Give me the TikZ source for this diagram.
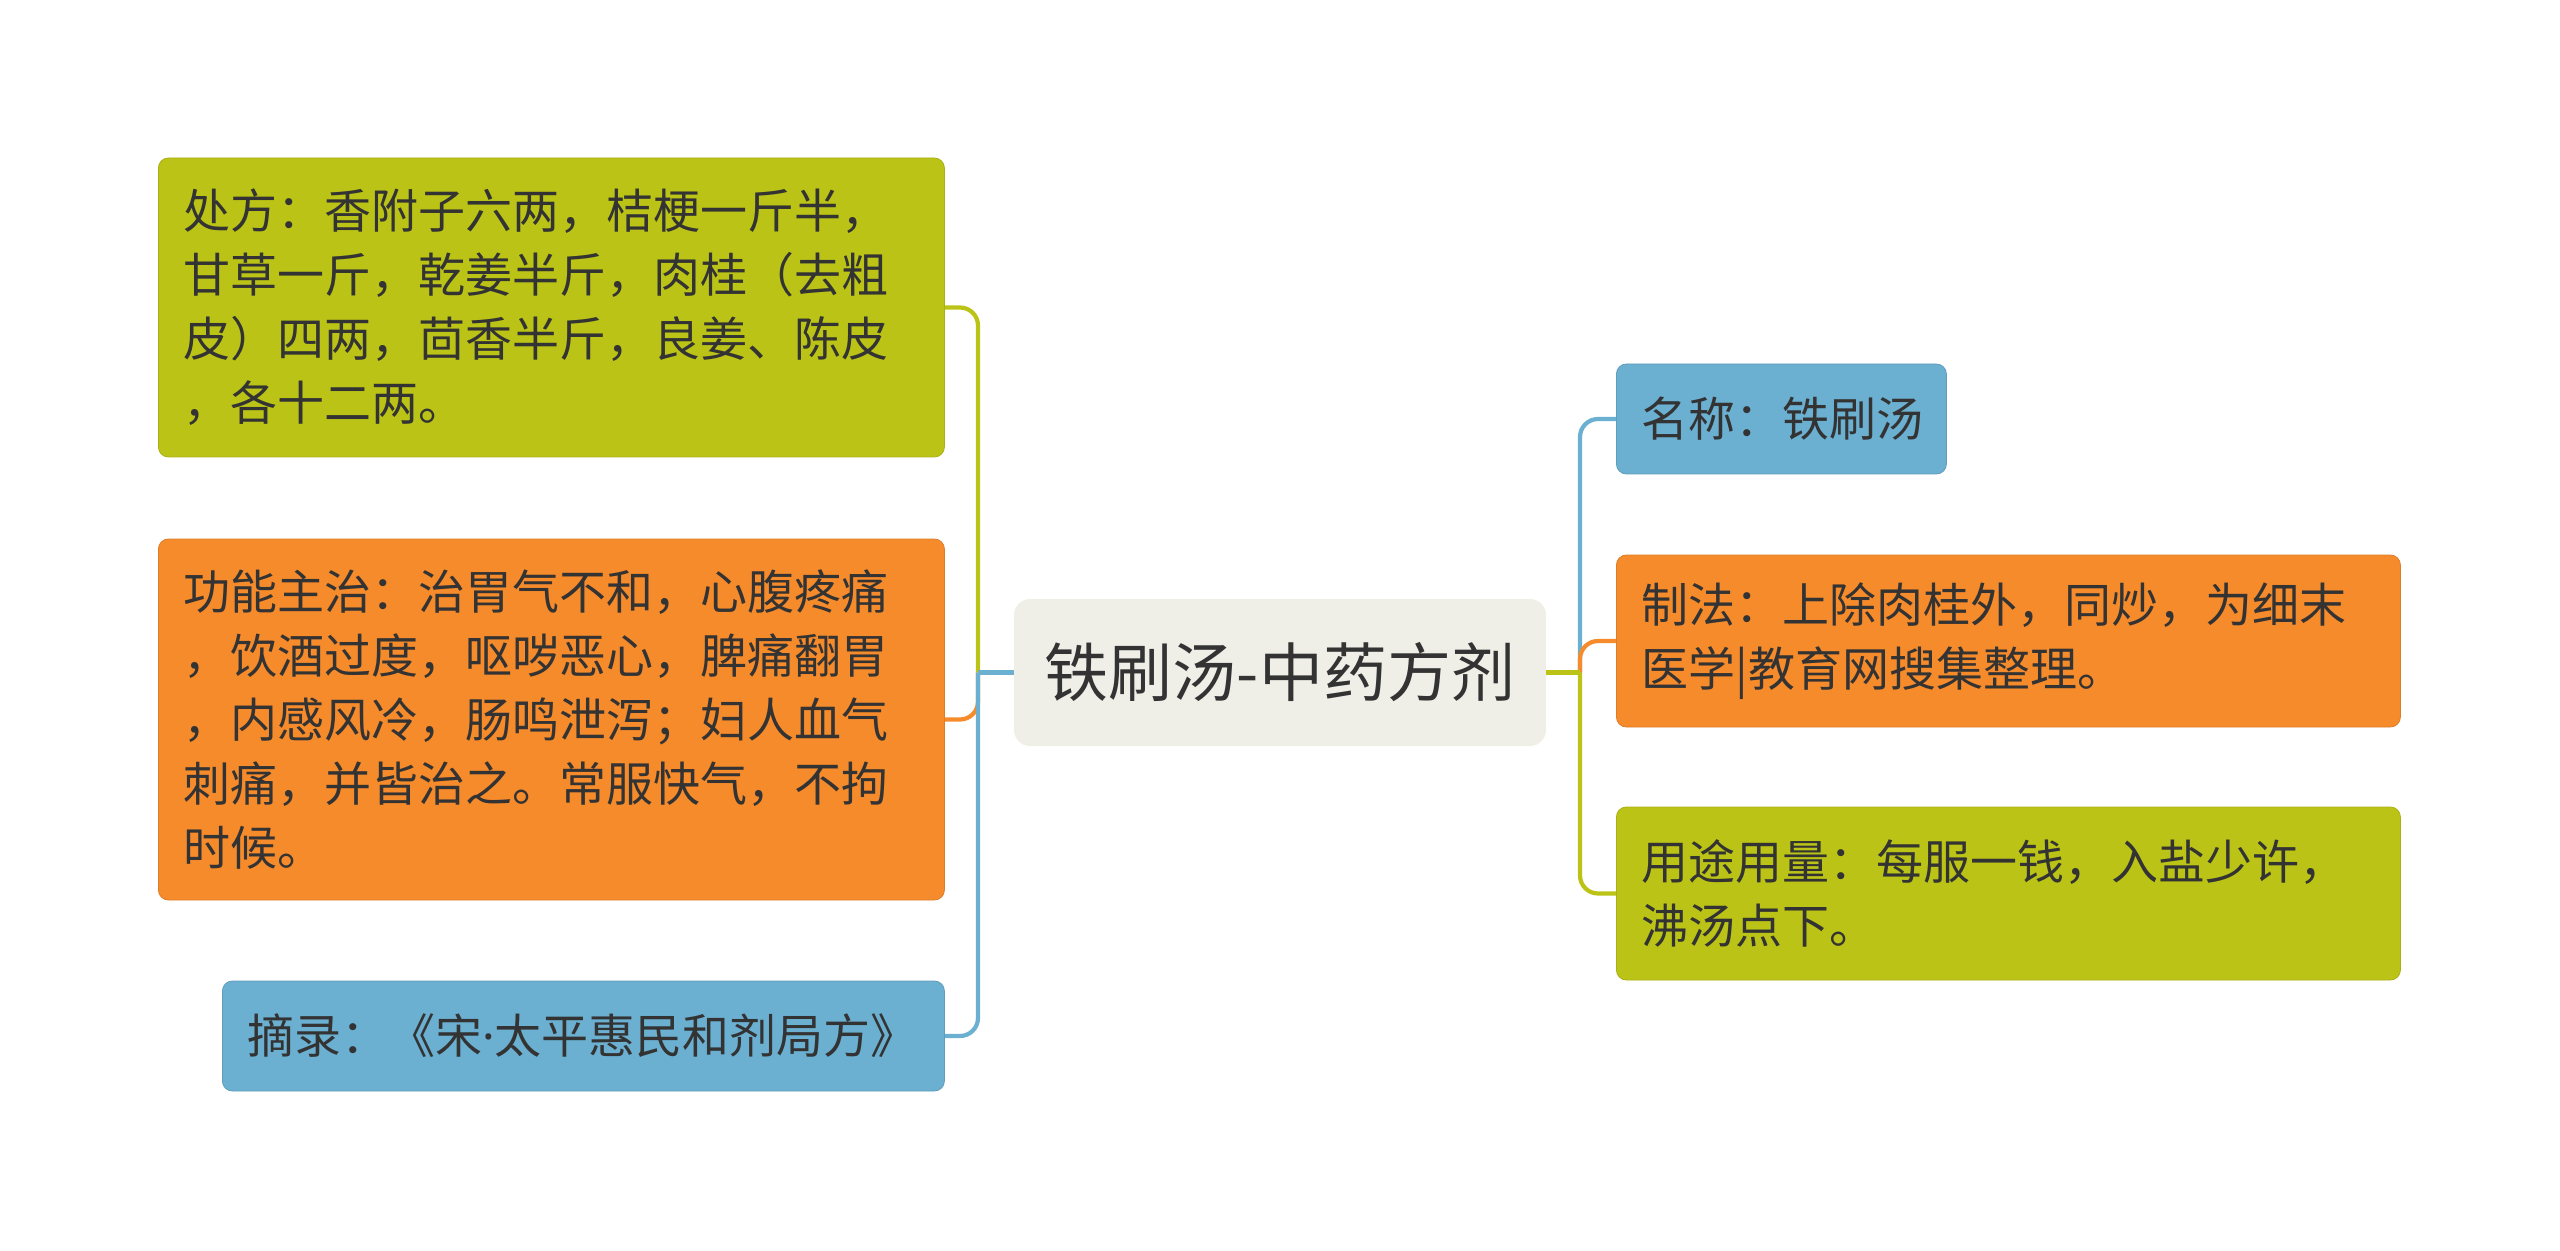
\documentclass[tikz,border=0pt]{standalone}
\usepackage{fontspec}
\setmainfont{Noto Sans CJK SC}
\newfontfamily\latinfont{Noto Sans}
\definecolor{cgreen}{HTML}{BBC416}
\definecolor{corange}{HTML}{F68B2C}
\definecolor{cblue}{HTML}{6BAFD1}
\definecolor{ccenter}{HTML}{EFEFE8}
\definecolor{ctext}{HTML}{333333}
\begin{document}
\begin{tikzpicture}[x=0.5pt,y=-0.5pt,
  leaf/.style={rounded corners=5pt, inner xsep=12.5pt, inner ysep=0pt, anchor=west,
    align=left, text=ctext, font=\fontsize{23.5pt}{32pt}\selectfont},
  hub/.style={rounded corners=8pt, fill=ccenter, inner sep=0pt, text=ctext,
    minimum width=266pt, minimum height=73.5pt, font=\fontsize{32pt}{38pt}\selectfont},
  link/.style={line width=2.1pt},
  elbow/.style={line width=2.1pt, rounded corners=9pt}]
\useasboundingbox (0,0) rectangle (2560,1251);

\node[hub] (c) at (1280,672.5) {铁刷汤-中药方剂};

\node[leaf, fill=cgreen, draw=cgreen!90!black, text width=368pt, minimum height=149.5pt] (b1) at (158,307.5)
  {处方：香附子六两，桔梗一斤半，\\甘草一斤，乾姜半斤，肉桂（去粗\\皮）四两，茴香半斤，良姜、陈皮\\，各十二两。};
\node[leaf, fill=corange, draw=corange!90!black, text width=368pt, minimum height=180.5pt] (b2) at (158,719.5)
  {功能主治：治胃气不和，心腹疼痛\\，饮酒过度，呕哕恶心，脾痛翻胃\\，内感风冷，肠鸣泄泻；妇人血气\\刺痛，并皆治之。常服快气，不拘\\时候。};
\node[leaf, fill=cblue, draw=cblue!90!black, text width=336pt, minimum height=55pt] (b3) at (222,1036)
  {摘录：《宋{\latinfont ·}太平惠民和剂局方》};

\node[leaf, fill=cblue, draw=cblue!90!black, text width=140pt, minimum height=55pt] (r1) at (1616,419)
  {名称：铁刷汤};
\node[leaf, fill=corange, draw=corange!90!black, text width=367pt, minimum height=86pt] (r2) at (1616,641)
  {制法：上除肉桂外，同炒，为细末\\医学|教育网搜集整理。};
\node[leaf, fill=cgreen, draw=cgreen!90!black, text width=367pt, minimum height=86.5pt] (r3) at (1616,893.5)
  {用途用量：每服一钱，入盐少许，\\沸汤点下。};

\coordinate (lt) at (978,672.5);
\coordinate (rt) at (1580,672.5);

\draw[elbow, cgreen] (lt) |- (b1.east);
\draw[elbow, corange] (lt) |- (b2.east);
\draw[elbow, cblue] (lt) |- (b3.east);
\draw[link, cblue] (c.west) -- (lt);

\draw[elbow, cblue] (rt) |- (r1.west);
\draw[elbow, corange] (rt) |- (r2.west);
\draw[elbow, cgreen] (rt) |- (r3.west);
\draw[link, cgreen] (c.east) -- (rt);
\end{tikzpicture}
\end{document}
